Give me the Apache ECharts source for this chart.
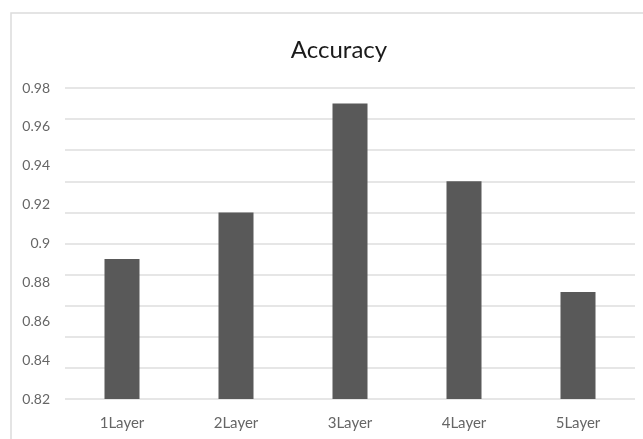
<!DOCTYPE html>
<html>
<head>
<meta charset="utf-8">
<script src="https://cdn.jsdelivr.net/npm/echarts@6/dist/echarts.min.js"></script>
<style>
  html, body { margin: 0; padding: 0; background: #ffffff; }
  #chart { width: 643px; height: 439px; }
</style>
</head>
<body>
<div id="chart"></div>
<script>
// Accuracy by network depth
const categories = ['1Layer', '2Layer', '3Layer', '4Layer', '5Layer'];
const accuracy = [0.892, 0.916, 0.972, 0.932, 0.875];

// value axis range and label step
const yMin = 0.82;
const yMax = 0.98;
const yStep = 0.02;

// background rule lines, evenly spaced over the plot
const ruleCount = 10;

const chart = echarts.init(document.getElementById('chart'), null, { renderer: 'canvas' });

chart.setOption({
  backgroundColor: '#ffffff',
  animation: false,
  graphic: [{
    type: 'rect',
    shape: { x: 11, y: 13, width: 700, height: 500 },
    style: { fill: 'none', stroke: '#dcdcdc', lineWidth: 1.5 },
    silent: true
  }],
  title: {
    text: 'Accuracy',
    left: 334,
    top: 33,
    textAlign: 'center',
    textStyle: { fontFamily: 'Lato', fontSize: 24, fontWeight: 'normal', color: '#1a1a1a' }
  },
  grid: { left: 65, right: 8, top: 88, bottom: 40, containLabel: false },
  xAxis: {
    type: 'category',
    data: categories,
    axisLine: { show: false },
    axisTick: { show: false },
    axisLabel: { color: '#666666', fontFamily: 'Lato', fontSize: 15, margin: 17 }
  },
  yAxis: [
    {
      type: 'value',
      min: yMin,
      max: yMax,
      interval: yStep,
      axisLine: { show: false },
      axisTick: { show: false },
      splitLine: { show: false },
      axisLabel: {
        color: '#666666',
        fontFamily: 'Lato',
        fontSize: 14,
        margin: 15,
        formatter: v => String(parseFloat(v.toFixed(2)))
      }
    },
    {
      type: 'value',
      position: 'left',
      min: 0,
      max: ruleCount,
      interval: 1,
      axisLine: { show: false },
      axisTick: { show: false },
      axisLabel: { show: false },
      splitLine: { show: true, lineStyle: { color: '#dedede', width: 1.6 } }
    }
  ],
  series: [{
    type: 'bar',
    yAxisIndex: 0,
    data: accuracy,
    barWidth: 35,
    itemStyle: { color: '#595959' }
  }]
});
</script>
</body>
</html>
